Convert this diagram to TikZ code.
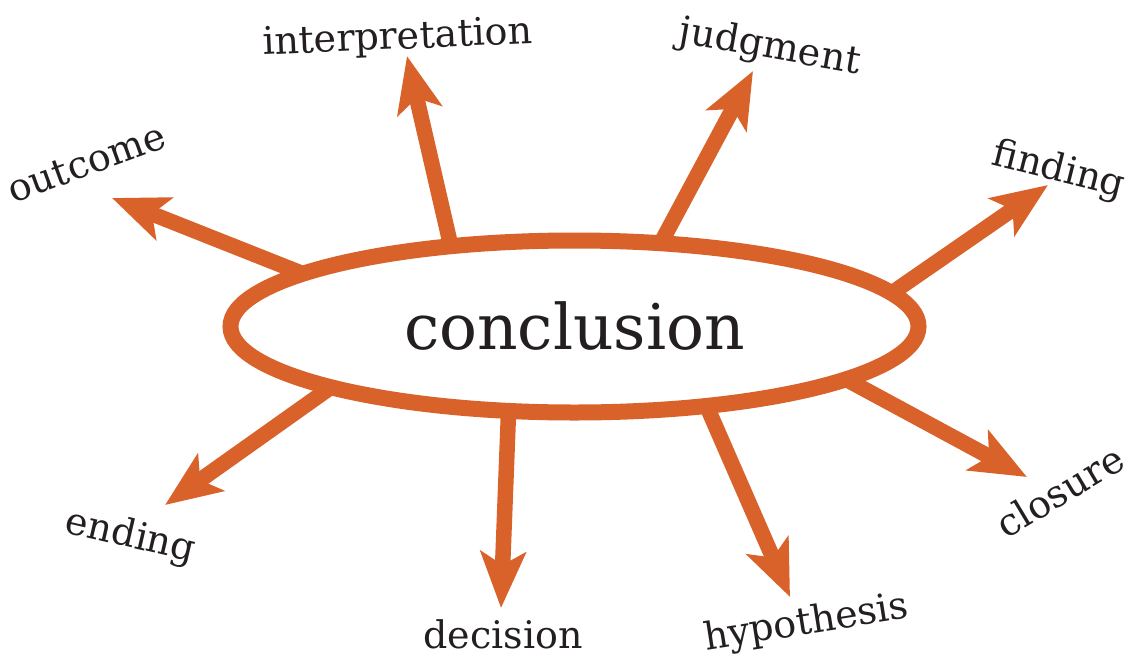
\documentclass[tikz,border=0pt]{standalone}
\usepackage{fontspec}
\setmainfont{DejaVu Serif}
\usetikzlibrary{arrows.meta,shapes.geometric}
\definecolor{rust}{HTML}{D9622A}
\definecolor{ink}{HTML}{231F20}

\begin{document}
\begin{tikzpicture}[x=1pt,y=-1pt,
        spoke/.style={rust,line width=15.5pt,-{Stealth[length=56pt,width=45pt,inset=13pt]}},
        word/.style={ink,font=\fontsize{38}{40}\selectfont,anchor=base,inner sep=0pt}]
        \useasboundingbox (0,0) rectangle (1130,659);
        % Draw centre ellipse
        \node[ellipse,draw=rust,line width=16pt,fill=white,minimum width=688pt,minimum height=172pt,
              inner sep=0pt,outer sep=0pt,text=ink,font=\fontsize{63}{66}\selectfont] (conc) at (574.5,326.5) {conclusion};
        % Draw words
        \node[word,rotate=20] (outcome) at (91,175) {outcome};
        \node[word,rotate=2.5] (interp) at (398,49) {interpretation};
        \node[word,rotate=-10] (judgment) at (768,58) {judgment};
        \node[word,rotate=-14] (finding) at (1056,181) {finding};
        \node[word,rotate=-13] (ending) at (128,547) {ending};
        \node[word] (decision) at (503,648) {decision};
        \node[word,rotate=9] (hypo) at (808,634) {hypothesis};
        \node[word,rotate=31] (closure) at (1067,503) {closure};
        % Arrow tips
        \coordinate (outcomeTip) at (112,198);
        \coordinate (interpTip) at (407,56);
        \coordinate (judgmentTip) at (753,71);
        \coordinate (findingTip) at (1048,185);
        \coordinate (endingTip) at (165,505);
        \coordinate (decisionTip) at (501,608);
        \coordinate (hypoTip) at (790,597);
        \coordinate (closureTip) at (1027,477);
        % Draw arrows
        \draw[spoke] (conc.169.9) -- (outcomeTip);
        \draw[spoke] (conc.147.7) -- (interpTip);
        \draw[spoke] (conc.44.5) -- (judgmentTip);
        \draw[spoke] (conc.6.7) -- (findingTip);
        \draw[spoke] (conc.194.6) -- (endingTip);
        \draw[spoke] (conc.232.4) -- (decisionTip);
        \draw[spoke] (conc.329.4) -- (hypoTip);
        \draw[spoke] (conc.349.1) -- (closureTip);
    \end{tikzpicture}
\end{document}
